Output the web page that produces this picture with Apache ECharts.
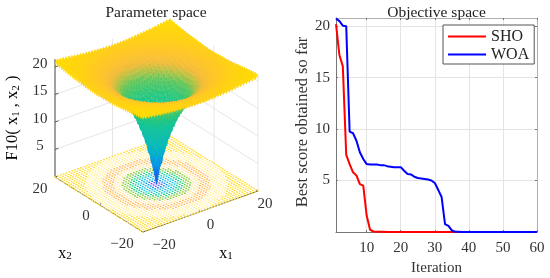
<!DOCTYPE html>
<html><head><meta charset="utf-8">
<style>html,body{margin:0;padding:0;background:#fff}#c{width:550px;height:278px}</style>
<script src="https://cdn.jsdelivr.net/npm/echarts@6/dist/echarts.min.js"></script>
</head><body><div id="c"></div>
<script>
// ---- Objective space ----
const iterations = Array.from({length:60},(_, i)=>i+1);
const sho = [20.2,17.2,16.1,7.5,6.6,5.8,5.5,4.65,4.5,1.6,0.22,0.05,0.03,0.02,0.02,0.01,0.01,0.01,0.01,0.01,
  0,0,0,0,0,0,0,0,0,0,0,0,0,0,0,0,0,0,0,0,0,0,0,0,0,0,0,0,0,0,0,0,0,0,0,0,0,0,0,0];
const woa = [20.75,20.5,20.05,20.0,9.75,9.6,8.87,7.75,7.1,6.6,6.55,6.55,6.55,6.5,6.5,6.4,6.35,6.3,6.3,6.3,
  5.95,5.63,5.6,5.37,5.25,5.2,5.15,5.1,5.0,4.76,4.1,3.4,0.77,0.6,0.15,0.03,0.02,0.01,0.01,0.01,
  0,0,0,0,0,0,0,0,0,0,0,0,0,0,0,0,0,0,0,0];
const xTicksRight = [10,20,30,40,50,60];
const yTicksRight = [5,10,15,20];

// ---- Parameter space ----
const profileR = [0,0.5,1,2,3,4,6,8,10,12,15,20,25,29];
const profileZ = [0,1.6,3.3,5.9,8.1,9.9,12.9,15,16.5,17.7,19,20.1,20.7,21.1];
const rippleTable = [[-0.55,0],[0,0.55]];
const colorZ   = [0,2,4,6,8,10,12,14,16,17,18,19.3,21];
const colorHex = ['#4a3fd8','#0f6ff0','#0a95e8','#05b0cf','#0cbcb8','#12c0aa','#16c498','#26c880','#60c860','#b0c448','#f5bd3c','#ffc828','#ffdc05'];
const floorR   = [1.5,3,5.5,7.5,9.5,12,15,19.5,40];
const floorCol = ['#6a5cf0','#1f8cf4','#14c4dc','#1ed088','#8ccc40','#ffe8a8','#ffc060','#fff0a0','#ffdf3c'];
const gridSteps = Array.from({length:81},(_, i)=>-20+i*0.5);
const zTicks = [5,10,15,20];
const x1Ticks = [-20,0,20];
const x2Ticks = [-20,0,20];
const zTop = 21.4;

const proj = (x1,x2,z)=>[156.5+2.875*x1-2.2*x2, 184-1.025*x1-1.375*x2-5.5*z];
function lookup(xs,ys,v){
  if(v<=xs[0])return ys[0];
  for(let i=1;i<xs.length;i++) if(v<=xs[i]){const t=(v-xs[i-1])/(xs[i]-xs[i-1]);return ys[i-1]+t*(ys[i]-ys[i-1]);}
  return ys[ys.length-1];
}
function surfZ(i,j){
  const x=gridSteps[i],y=gridSteps[j];
  const z=lookup(profileR,profileZ,Math.hypot(x,y))+rippleTable[i%2][j%2];
  return Math.max(0,z);
}
const rgb=colorHex.map(h=>[1,3,5].map(k=>parseInt(h.substr(k,2),16)));
function zColor(z){
  let k=colorZ.length-2;
  for(let i=0;i<colorZ.length-1;i++) if(z<=colorZ[i+1]){k=i;break;}
  const t=Math.min(1,Math.max(0,(z-colorZ[k])/(colorZ[k+1]-colorZ[k])));
  const c=[0,1,2].map(n=>Math.round(rgb[k][n]+t*(rgb[k+1][n]-rgb[k][n])));
  return `rgb(${c[0]},${c[1]},${c[2]})`;
}
// cells ordered back to front
const cells=[];
for(let i=0;i<gridSteps.length-1;i++)for(let j=0;j<gridSteps.length-1;j++)cells.push([i,j]);
cells.sort((a,b)=>(b[0]+b[1])-(a[0]+a[1]));
const dots=[];
for(let i=0;i<gridSteps.length;i+=2)for(let j=0;j<gridSteps.length;j+=2)dots.push([i,j]);

// wall & frame segments [x1,x2,z,x1,x2,z,kind]
const wall=[];
zTicks.forEach(z=>{wall.push([-20,20,z,20,20,z,0],[20,20,z,20,-20,z,0]);});
x1Ticks.forEach(t=>wall.push([t,20,0,t,20,zTop,0]));
x2Ticks.forEach(t=>wall.push([20,t,0,20,t,zTop,0]));
wall.push([-20,20,0,-20,-20,0,1],[-20,-20,0,20,-20,0,1]);
wall.push([-20,20,0,-20,20,zTop,2]);
zTicks.forEach(z=>wall.push([-20,20,z,-18.8,20,z,1]));
x1Ticks.forEach(t=>wall.push([t,-20,0,t,-19,0,1]));
x2Ticks.forEach(t=>wall.push([-20,t,0,-19,t,0,1]));

const serif='"Liberation Serif","Times New Roman",serif';
const chart=echarts.init(document.getElementById('c'),null,{renderer:'canvas'});

// 3d tick labels [text,x1,x2,z,dx,dy]
const tl=[];
zTicks.forEach(z=>tl.push([String(z),-20,20,z,-15,-3]));
[[-20,'\u221220',-21,12],[0,'0',-13,12],[20,'20',-15,12]].forEach(a=>tl.push([a[1],-20,a[0],0,a[2],a[3]]));
[[-20,'\u221220',21,13],[0,'0',10,14],[20,'20',7,13]].forEach(a=>tl.push([a[1],a[0],-20,0,a[2],a[3]]));

chart.setOption({
  animation:false,
  title:[
    {text:'Parameter space',left:151,top:0,textAlign:'center',textStyle:{fontFamily:serif,fontSize:15.5,fontWeight:'normal',color:'#222'}},
    {text:'Objective space',left:431.5,top:0,textAlign:'center',textStyle:{fontFamily:serif,fontSize:15.5,fontWeight:'normal',color:'#222'}}
  ],
  grid:[
    {left:0,top:0,width:550,height:278,show:false,outerBoundsMode:'none'},
    {left:336,top:18,width:201,height:214,show:true,borderColor:'#999',borderWidth:0,outerBoundsMode:'none'}
  ],
  xAxis:[
    {gridIndex:0,type:'value',min:0,max:550,show:false},
    {gridIndex:1,type:'value',min:1,max:60,name:'Iteration',nameLocation:'middle',nameGap:27,
      nameTextStyle:{fontFamily:serif,fontSize:15,color:'#333'},
      axisLine:{show:true,onZero:false,lineStyle:{color:'#777',width:1}},
      axisTick:{show:true,inside:true,length:2,customValues:xTicksRight,lineStyle:{color:'#777'}},
      axisLabel:{customValues:xTicksRight,fontFamily:serif,fontSize:15,color:'#333',margin:9},
      splitLine:{show:true,lineStyle:{color:'#e4e4e4'}}},
    {gridIndex:1,type:'value',position:'top',min:1,max:60,
      axisLine:{show:true,onZero:false,lineStyle:{color:'#b0b0b0',width:1}},
      axisTick:{show:true,inside:true,length:2,customValues:xTicksRight,lineStyle:{color:'#777'}},
      axisLabel:{show:false},splitLine:{show:false}}
  ],
  yAxis:[
    {gridIndex:0,type:'value',min:0,max:278,inverse:true,show:false},
    {gridIndex:1,type:'value',min:0,max:20.8,name:'Best score obtained so far',nameLocation:'middle',nameGap:25,
      nameTextStyle:{fontFamily:serif,fontSize:16.5,color:'#333',padding:[0,0,0,6]},
      axisLine:{show:true,onZero:false,lineStyle:{color:'#777',width:1}},
      axisTick:{show:true,inside:true,length:2,customValues:yTicksRight,lineStyle:{color:'#777'}},
      axisLabel:{customValues:yTicksRight,fontFamily:serif,fontSize:15,color:'#333',margin:6},
      splitLine:{show:true,lineStyle:{color:'#e4e4e4'}}},
    {gridIndex:1,type:'value',position:'right',min:0,max:20.8,
      axisLine:{show:true,onZero:false,lineStyle:{color:'#b0b0b0',width:1}},
      axisTick:{show:true,inside:true,length:2,customValues:yTicksRight,lineStyle:{color:'#777'}},
      axisLabel:{show:false},splitLine:{show:false}}
  ],
  legend:{data:['SHO','WOA'],orient:'vertical',left:443,top:25,padding:[3,5,1,5],itemGap:1,itemWidth:38,itemHeight:2,icon:'rect',
    backgroundColor:'#fff',borderColor:'#555',borderWidth:1,borderRadius:0,
    textStyle:{fontFamily:serif,fontSize:16,color:'#222',lineHeight:17}},
  series:[
    {type:'custom',name:'walls',xAxisIndex:0,yAxisIndex:0,silent:true,progressive:0,data:wall.map((w,i)=>[i,0]),z:1,
      renderItem(p,api){
        const w=wall[api.value(0)];
        const a=api.coord(proj(w[0],w[1],w[2])),b=api.coord(proj(w[3],w[4],w[5]));
        const st=[{stroke:'#e6e6e6',lineWidth:1},{stroke:'#5a5a5a',lineWidth:1},{stroke:'#a0a0a0',lineWidth:2}][w[6]];
        return {type:'line',shape:{x1:a[0],y1:a[1],x2:b[0],y2:b[1]},style:st};
      }},
    {type:'custom',name:'floor',xAxisIndex:0,yAxisIndex:0,silent:true,progressive:0,data:dots,z:2,
      renderItem(p,api){
        const i=api.value(0),j=api.value(1);
        const x=gridSteps[i],y=gridSteps[j],c=api.coord(proj(x,y,0));
        let col=floorCol[floorCol.length-1];
        const r=Math.hypot(x,y);
        for(let k=0;k<floorR.length;k++) if(r<floorR[k]){col=floorCol[k];break;}
        return {type:'rect',shape:{x:c[0]-0.9,y:c[1]-0.7,width:1.8,height:1.4},style:{fill:col}};
      }},
    {type:'custom',name:'surface',xAxisIndex:0,yAxisIndex:0,silent:true,progressive:0,data:cells,z:3,
      renderItem(p,api){
        const i=api.value(0),j=api.value(1);
        const corners=[[i,j],[i+1,j],[i+1,j+1],[i,j+1]];
        let sum=0;
        const pts=corners.map(c=>{const z=surfZ(c[0],c[1]);sum+=z;return api.coord(proj(gridSteps[c[0]],gridSteps[c[1]],z));});
        const col=zColor(sum/4);
        return {type:'polygon',shape:{points:pts},style:{fill:col,stroke:col,lineWidth:0.4}};
      }},
    {type:'custom',name:'ticks3d',xAxisIndex:0,yAxisIndex:0,silent:true,progressive:0,data:tl.map((t,i)=>[i,0]),z:5,
      renderItem(p,api){
        const t=tl[api.value(0)];
        const c=api.coord(proj(t[1],t[2],t[3]));
        return {type:'text',x:c[0]+t[4],y:c[1]+t[5],style:{text:t[0],fontFamily:serif,fontSize:15,fill:'#333',align:'center',verticalAlign:'middle'}};
      }},
    {type:'line',name:'SHO',xAxisIndex:1,yAxisIndex:1,data:iterations.map((x,i)=>[x,sho[i]]),showSymbol:false,symbol:'none',
      lineStyle:{color:'#ff0000',width:2},itemStyle:{color:'#ff0000'},clip:false,z:6},
    {type:'line',name:'WOA',xAxisIndex:1,yAxisIndex:1,data:iterations.map((x,i)=>[x,woa[i]]),showSymbol:false,symbol:'none',
      lineStyle:{color:'#0000ff',width:2},itemStyle:{color:'#0000ff'},clip:false,z:7}
  ],
  graphic:[
    {type:'text',x:13,y:118,rotation:Math.PI/2,z:10,style:{
      text:'{a|F10( x}{s|1}{a| , x}{s|2}{a| )}',align:'center',verticalAlign:'middle',
      rich:{a:{fontFamily:serif,fontSize:16.5,color:'#333'},s:{fontFamily:serif,fontSize:11,color:'#333',verticalAlign:'bottom'}}}},
    {type:'text',x:65,y:254,z:10,style:{text:'{a|x}{s|2}',align:'center',verticalAlign:'middle',
      rich:{a:{fontFamily:serif,fontSize:16,color:'#333'},s:{fontFamily:serif,fontSize:11,color:'#333',verticalAlign:'bottom'}}}},
    {type:'text',x:226,y:254,z:10,style:{text:'{a|x}{s|1}',align:'center',verticalAlign:'middle',
      rich:{a:{fontFamily:serif,fontSize:16,color:'#333'},s:{fontFamily:serif,fontSize:11,color:'#333',verticalAlign:'bottom'}}}}
  ]
});
</script></body></html>
